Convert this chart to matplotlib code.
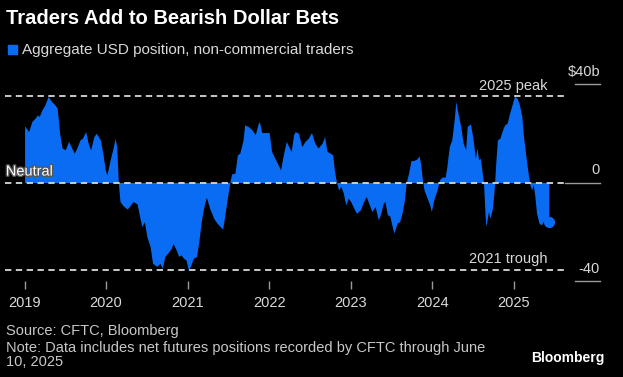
import matplotlib
matplotlib.use("Agg")
import matplotlib.pyplot as plt
import matplotlib.patheffects as pe

# Aggregate USD position of non-commercial traders, $bn
years = [
    2019.00, 2019.05, 2019.09, 2019.13, 2019.16, 2019.18, 2019.21, 2019.25, 2019.29, 2019.33,
    2019.37, 2019.40, 2019.43, 2019.46, 2019.50, 2019.54, 2019.57, 2019.61, 2019.64, 2019.68,
    2019.71, 2019.75, 2019.78, 2019.81, 2019.85, 2019.88, 2019.93, 2019.96, 2019.99, 2020.01,
    2020.05, 2020.09, 2020.11, 2020.13, 2020.15, 2020.17, 2020.21, 2020.26, 2020.30, 2020.33,
    2020.38, 2020.42, 2020.44, 2020.47, 2020.50, 2020.54, 2020.57, 2020.62, 2020.66, 2020.69,
    2020.72, 2020.76, 2020.80, 2020.82, 2020.86, 2020.89, 2020.92, 2020.95, 2020.98, 2021.01,
    2021.04, 2021.07, 2021.11, 2021.14, 2021.17, 2021.20, 2021.23, 2021.27, 2021.32, 2021.36,
    2021.40, 2021.43, 2021.46, 2021.49, 2021.52, 2021.54, 2021.58, 2021.61, 2021.64, 2021.68,
    2021.70, 2021.74, 2021.79, 2021.83, 2021.86, 2021.88, 2021.91, 2021.95, 2022.00, 2022.03,
    2022.07, 2022.11, 2022.14, 2022.17, 2022.21, 2022.24, 2022.27, 2022.30, 2022.32, 2022.36,
    2022.40, 2022.44, 2022.48, 2022.52, 2022.56, 2022.60, 2022.65, 2022.68, 2022.71, 2022.75,
    2022.78, 2022.80, 2022.82, 2022.85, 2022.88, 2022.91, 2022.94, 2022.97, 2023.00, 2023.03,
    2023.07, 2023.12, 2023.15, 2023.19, 2023.23, 2023.26, 2023.30, 2023.34, 2023.37, 2023.40,
    2023.42, 2023.45, 2023.48, 2023.51, 2023.53, 2023.57, 2023.60, 2023.63, 2023.66, 2023.68,
    2023.71, 2023.74, 2023.77, 2023.81, 2023.84, 2023.86, 2023.88, 2023.90, 2023.93, 2023.97,
    2023.99, 2024.02, 2024.06, 2024.09, 2024.12, 2024.16, 2024.18, 2024.21, 2024.24, 2024.27,
    2024.29, 2024.32, 2024.35, 2024.38, 2024.41, 2024.43, 2024.47, 2024.50, 2024.53, 2024.55,
    2024.57, 2024.59, 2024.61, 2024.63, 2024.65, 2024.66, 2024.69, 2024.71, 2024.74, 2024.76,
    2024.78, 2024.80, 2024.83, 2024.87, 2024.89, 2024.92, 2024.95, 2024.98, 2025.01, 2025.04,
    2025.07, 2025.10, 2025.12, 2025.15, 2025.18, 2025.20, 2025.22, 2025.24, 2025.26, 2025.28,
    2025.31, 2025.34, 2025.36, 2025.40, 2025.43,
]
position = [
    23.0, 20.7, 24.8, 26.2, 27.5, 26.8, 29.3, 31.6, 35.0, 32.9,
    31.6, 30.2, 20.0, 14.0, 13.3, 16.7, 14.6, 11.9, 14.0, 17.3,
    18.0, 20.7, 16.0, 13.3, 18.7, 20.0, 17.3, 11.9, 5.1, 3.1,
    9.2, 14.6, 18.0, 14.6, 0.0, -7.7, -9.5, -10.8, -9.1, -7.7,
    -8.7, -15.2, -17.9, -15.9, -22.0, -26.0, -32.8, -34.1, -32.8, -34.8,
    -30.0, -28.5, -26.7, -24.7, -27.4, -30.0, -29.4, -30.8, -31.4, -35.7,
    -33.5, -30.8, -30.0, -23.3, -15.2, -9.8, -6.0, -10.4, -14.5, -16.5,
    -17.9, -19.0, -12.5, -5.7, 0.4, 3.5, 3.8, 11.2, 11.9, 17.3,
    23.4, 22.8, 21.4, 19.4, 23.4, 24.8, 20.3, 20.3, 20.3, 12.6,
    9.9, 7.2, 5.1, 10.6, 16.7, 14.6, 12.6, 19.4, 20.7, 20.0,
    14.6, 16.7, 18.0, 20.3, 16.0, 14.0, 16.0, 18.7, 12.6, 11.9,
    11.2, 5.1, 1.1, -3.0, -1.6, -4.3, -9.1, -6.4, -7.7, -9.8,
    -12.5, -11.1, -8.4, -5.7, -9.1, -11.8, -9.8, -15.2, -12.5, -8.4,
    -7.7, -13.1, -13.6, -17.9, -20.6, -16.5, -15.9, -12.5, -7.0, -0.3,
    3.8, 8.9, 8.9, 9.5, 10.8, 7.2, 1.1, -3.0, -5.7, -9.1,
    -11.8, -7.0, -3.0, 1.1, 2.2, 2.2, 6.5, 14.6, 17.3, 25.5,
    32.9, 27.5, 22.8, 16.0, 13.3, 22.8, 23.8, 18.0, 9.9, 14.0,
    9.2, 9.9, 5.1, -0.3, -13.8, -17.9, -11.8, -14.5, -10.4, -3.0,
    7.9, 17.3, 18.0, 22.0, 23.4, 24.1, 28.2, 31.6, 35.0, 34.3,
    31.6, 26.8, 18.7, 10.6, 3.1, -0.9, -3.0, -0.9, -5.7, -12.5,
    -16.5, -17.2, -15.9, -14.5, -16.2,
]

peak_2025 = 35.0
trough_2021 = -35.7
year_ticks = [2019, 2020, 2021, 2022, 2023, 2024, 2025]
y_ticks = [40, 0, -40]
y_tick_labels = ["$40b", "0", "-40"]

BLUE = "#0a6cf2"
GREY = "#d9d9d9"
font = ["Liberation Sans Narrow", "Liberation Sans", "DejaVu Sans"]
plt.rcParams["font.family"] = font

fig = plt.figure(figsize=(6.23, 3.77), dpi=100, facecolor="black")
ax = fig.add_axes([5 / 623, 1 - 281 / 377, 600 / 623, 197 / 377])
ax.set_facecolor("black")

x0, x1 = 2018.76, 2026.12
ax.set_xlim(x0, x1)
ax.set_ylim(-40, 40)

ax.fill_between(years, 0, position, color=BLUE, linewidth=0, zorder=2)
ax.plot(years[-1], position[-1], "o", color=BLUE, markersize=7, zorder=3, clip_on=False)

# reference lines
dash_end = 2025.63
for yv in (peak_2025, 0, trough_2021):
    ax.plot([x0, dash_end], [yv, yv], color=GREY, lw=1.3, dashes=(3.5, 2.5), zorder=4, clip_on=False)
ax.plot([dash_end, 2026.06], [0, 0], color="#9a9a9a", lw=1.0, zorder=1)
for yv in (40, -40):
    ax.plot([2025.75, 2026.06], [yv, yv], color="#9a9a9a", lw=1.0, clip_on=False)
for yv, lab in zip(y_ticks, y_tick_labels):
    ax.text(2026.06, yv + 2.2, lab, color=GREY, fontsize=10.5, ha="right", va="bottom")

ax.text(2025.42, peak_2025 + 1.3, "2025 peak", color=GREY, fontsize=10.5, ha="right", va="bottom")
ax.text(2025.42, trough_2021 + 1.6, "2021 trough", color=GREY, fontsize=10.5, ha="right", va="bottom")
ax.text(x0 + 0.01, 1.6, "Neutral", color="white", fontsize=10.5, ha="left", va="bottom",
        path_effects=[pe.withStroke(linewidth=2, foreground="#555555")], zorder=5)

ax.set_xticks(year_ticks)
ax.set_xticklabels([str(y) for y in year_ticks])
ax.set_yticks([])
ax.tick_params(axis="x", colors="#9a9a9a", labelcolor=GREY, length=6, width=1, labelsize=10.5, pad=5)
for s in ax.spines.values():
    s.set_visible(False)

fig.text(6 / 623, 1 - 18 / 377, "Traders Add to Bearish Dollar Bets", color="white", fontsize=14.5,
         fontweight="bold", family=["Liberation Sans", "DejaVu Sans"], va="center", ha="left")
fig.patches.append(plt.Rectangle((8 / 623, 1 - 54 / 377), 9 / 623, 9 / 377, color=BLUE,
                                 transform=fig.transFigure, figure=fig))
fig.text(22 / 623, 1 - 50 / 377, "Aggregate USD position, non-commercial traders", color=GREY,
         fontsize=11, va="center", ha="left")

fig.text(6 / 623, 1 - 331 / 377, "Source: CFTC, Bloomberg", color="#c8c8c8", fontsize=10.5, va="center")
fig.text(6 / 623, 1 - 355 / 377,
         "Note: Data includes net futures positions recorded by CFTC through June\n10, 2025",
         color="#c8c8c8", fontsize=10.5, va="center", linespacing=1.0)
fig.text(605 / 623, 1 - 358 / 377, "Bloomberg", color="white", fontsize=10, fontweight="bold",
         family=["Liberation Sans", "DejaVu Sans"], ha="right", va="center")

fig.savefig("out.png", dpi=100, facecolor="black")
